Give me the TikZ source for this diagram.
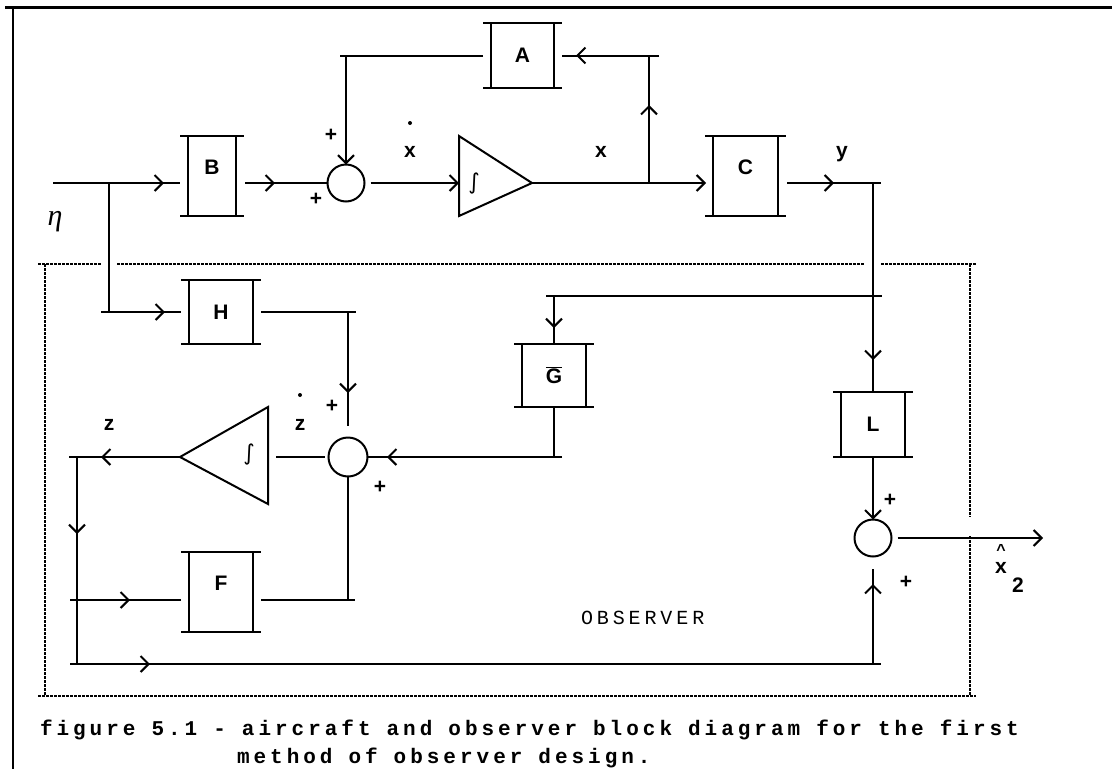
\documentclass[tikz,border=0pt]{standalone}
\usepackage{fontspec}
\setmainfont{Liberation Sans}
\newfontfamily\capfont[LetterSpace=19.5]{Liberation Mono}
\newfontfamily\figfont[LetterSpace=19]{Liberation Mono Bold}
\newfontfamily\grkfont{Liberation Serif}
\newfontfamily\symfont{DejaVu Sans}
\newcommand{\figstyle}{\figfont\fontsize{21}{24}\selectfont\spaceskip 16pt\relax}
\usetikzlibrary{arrows.meta, calc, decorations.markings}

\begin{document}
\begin{tikzpicture}[
  x=1pt, y=-1pt,
  line width=2pt,
  >={Straight Barb[length=8pt, width=16pt]},
  blk/.style={draw, inner sep=0pt, outer sep=0pt, font=\fontsize{21}{24}\selectfont\bfseries},
  sumc/.style={draw, circle, minimum size=37pt, inner sep=0pt, outer sep=0pt},
  lbl/.style={inner sep=0pt, font=\fontsize{21}{24}\selectfont\bfseries},
  intg/.style={inner sep=0pt, font=\symfont\fontsize{22}{24}\selectfont},
  captxt/.style={inner sep=0pt, anchor=base west, font=\capfont\fontsize{20}{24}\selectfont},
  figtxt/.style={inner sep=0pt, anchor=base west, font=\figstyle},
  obs/.style={line width=2pt, dash pattern=on 2.5pt off 1.5pt},
  arr/.style={postaction={decorate}, decoration={markings, mark=at position #1 with {\arrow{>}}}}
]
\useasboundingbox (0,0) rectangle (1112,769);

% frame
\draw[line width=3pt] (5,7) -- (1112,7);
\draw (13,7) -- (13,769);

% observer boundary
\draw[obs] (38,264) -- (101,264) (117,264) -- (865,264) (881,264) -- (976,264);
\draw[obs] (45,264) -- (45,696) (38,696) -- (976,696);
\draw[obs] (970,264) -- (970,517) (970,536) -- (970,696);

% blocks
\node[blk, minimum width=63pt, minimum height=65pt] (A) at (522.5,55.5) {A};
\node[blk, minimum width=48pt, minimum height=80pt, text depth=18pt] (B) at (212,176) {B};
\node[blk, minimum width=65pt, minimum height=80pt, text depth=18pt] (C) at (745.5,176) {C};
\node[blk, minimum width=64pt, minimum height=64pt] (H) at (221,312) {H};
\node[blk, minimum width=64pt, minimum height=63pt] (Gb) at (554,375.5) {$\overline{\mbox{G}}$};
\node[blk, minimum width=64pt, minimum height=65pt] (L) at (873,424.5) {L};
\node[blk, minimum width=64pt, minimum height=80pt, text depth=18pt] (F) at (221,592) {F};
\foreach \n in {A,B,C,H,Gb,L,F} {
  \draw ([xshift=-8pt]\n.north west) -- ([xshift=8pt]\n.north east)
        ([xshift=-8pt]\n.south west) -- ([xshift=8pt]\n.south east);
}

% summing junctions
\node[sumc] (s1) at (346,183) {};
\node[sumc, minimum size=39pt] (s2) at (348,457) {};
\node[sumc] (s3) at (873,538) {};

% integrators
\draw (459,136) -- (532,183) -- (459,216) -- cycle;
\coordinate (i1in) at (459,183);
\coordinate (i1out) at (532,183);
\node[intg] (int1) at (474,184) {∫};
\draw (268,407) -- (180,457) -- (268,504) -- cycle;
\coordinate (i2in) at (268,457);
\coordinate (i2out) at (180,457);
\node[intg] (int2) at (249,455) {∫};

% aircraft
\coordinate (eta) at (53,183);
\coordinate (br) at (109,183);
\coordinate (xb) at (649,183);
\coordinate (yb) at (873,183);
\coordinate (xa) at (649,55.5);
\coordinate (sa) at (346,55.5);
\draw[arr=111pt] (eta) -- ($(B.west|-eta)+(-8,0)$);
\draw[arr=30pt] ($(B.east|-eta)+(9,0)$) -- (s1);
\draw[->, shorten <=6pt] (s1) -- (i1in);
\draw[->] (i1out) -- ($(C.west|-eta)+(-7,0)$);
\draw[arr=78pt] (xb) -- (xa);
\draw[arr=83pt] ($(xa)+(10,0)$) -- ($(A.east)+(8,0)$);
\draw ($(A.west)+(-8,0)$) -- ($(sa)+(-6,0)$);
\draw[->] (sa) -- (s1);
\draw[arr=47pt] ($(C.east|-eta)+(9,0)$) -- ($(yb)+(8,0)$);
\draw[arr=177pt] (yb) -- (L.north);

% observer
\coordinate (gg) at (554,296);
\coordinate (gy) at (873,296);
\coordinate (gs) at (554,457);
\coordinate (hb) at (109,312);
\coordinate (hs) at (348,312);
\coordinate (zb) at (77,457);
\coordinate (fb) at (77,600);
\coordinate (fs) at (348,600);
\coordinate (bb) at (77,664);
\coordinate (bs) at (873,664);
\coordinate (xhat) at (1043,538);
\draw ($(gg)+(-8,0)$) -- ($(gy)+(9,0)$);
\draw[arr=32pt] (gg) -- (Gb.north);
\draw (Gb.south) -- (gs);
\draw[arr=175pt] ($(gs)+(8,0)$) -- (s2);
\draw (br) -- (hb);
\draw[arr=64pt] ($(hb)+(-8,0)$) -- ($(H.west)+(-8,0)$);
\draw ($(H.east)+(8,0)$) -- ($(hs)+(8,0)$);
\draw[arr=81pt] (hs) -- ($(s2.north)+(0,-12)$);
\draw ($(s2.west)+(-4,0)$) -- ($(i2in)+(8,0)$);
\draw[arr=79pt] (i2out) -- ($(zb)+(-8,0)$);
\draw[arr=77pt] (zb) -- (bb);
\draw[arr=60pt] ($(fb)+(-7,0)$) -- ($(F.west|-fb)+(-8,0)$);
\draw ($(F.east|-fb)+(8,0)$) -- ($(fs)+(7,0)$);
\draw (fs) -- (s2);
\draw[arr=80pt] ($(bb)+(-7,0)$) -- ($(bs)+(8,0)$);
\draw[arr=80pt] (bs) -- ($(s3.south)+(0,12)$);
\draw[->] (L.south) -- (s3);
\draw[->] ($(s3.east)+(6,0)$) -- (xhat);

% signs and signal names
\node[lbl] (p1) at (331,135) {+};
\node[lbl] (p2) at (316,199) {+};
\node[lbl, anchor=base] (xd) at (410,157) {x};
\fill (410,123) circle (2pt);
\node[lbl, anchor=base] (xl) at (601,157) {x};
\node[lbl, anchor=base] (yl) at (842,157) {y};
\node[inner sep=0pt, font=\grkfont\itshape\fontsize{30}{30}\selectfont, anchor=base] (etal) at (55,225) {η};
\node[lbl] (p3) at (332,406) {+};
\node[lbl, anchor=base] (zd) at (300,430) {z};
\fill (300,395) circle (2pt);
\node[lbl, anchor=base] (zl) at (109,430) {z};
\node[lbl] (p4) at (380,487) {+};
\node[lbl] (p5) at (890,500) {+};
\node[lbl] (p6) at (906,582) {+};
\node[lbl, anchor=base] (xh) at (1001,573) {x};
\node[lbl, anchor=base, font=\fontsize{16}{18}\selectfont\bfseries] (hat) at (1001,555) {\^{}};
\node[lbl, anchor=base] (sub2) at (1018,592) {2};

% captions
\node[captxt] (obslbl) at (580,624) {OBSERVER};
\node[figtxt] (cap1) at (39,735) {figure 5.1 - aircraft and observer block diagram for the first};
\node[figtxt] (cap2) at (236,763) {method of observer design.};

\end{tikzpicture}
\end{document}
